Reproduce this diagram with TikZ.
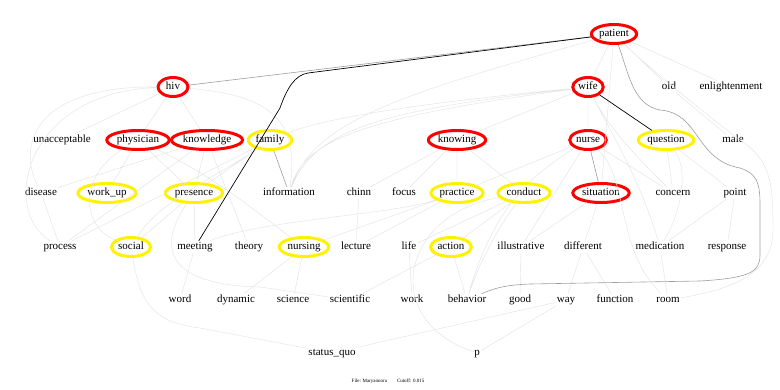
\documentclass[tikz,border=0pt]{standalone}
\usepackage{fontspec}
\setmainfont{Liberation Serif}
\usetikzlibrary{shapes,positioning}

\tikzset{
  term/.style={font=\fontsize{11}{12}\selectfont, inner sep=1pt, text height=7.5pt, text depth=2.5pt},
  redterm/.style={term, ellipse, draw=red, line width=3pt, inner xsep=1pt, minimum height=19pt, minimum width=30pt},
  yellowterm/.style={redterm, draw=yellow},
  faint/.style={draw=black!11, line width=0.45pt},
  grey/.style={draw=black!38, line width=0.6pt},
  strong/.style={draw=black, line width=0.7pt}
}

\begin{document}
\begin{tikzpicture}[x=1pt,y=-1pt]
	\useasboundingbox (0,0) rectangle (780,389);

	% rows of terms
	\node [redterm] (patient) at (614,34) {patient};

	\node [redterm] (hiv) at (173,87) {hiv};
	\node [redterm] (wife) at (588,87) {wife};
	\node [term] (old) at (669,87) {old};
	\node [term] (enlightenment) at (731,87) {enlightenment};

	\node [term] (unacceptable) at (62,140) {unacceptable};
	\node [redterm] (physician) at (138,140) {physician};
	\node [redterm] (knowledge) at (207,140) {knowledge};
	\node [yellowterm] (family) at (270,140) {family};
	\node [redterm] (knowing) at (457,140) {knowing};
	\node [redterm] (nurse) at (588,140) {nurse};
	\node [yellowterm] (question) at (666,140) {question};
	\node [term] (male) at (733,140) {male};

	\node [term] (disease) at (41,193) {disease};
	\node [yellowterm] (workup) at (107,193) {work\_up};
	\node [yellowterm] (presence) at (194,193) {presence};
	\node [term] (information) at (289,193) {information};
	\node [term] (chinn) at (359,193) {chinn};
	\node [term] (focus) at (404,193) {focus};
	\node [yellowterm] (practice) at (457,193) {practice};
	\node [yellowterm] (conduct) at (524,193) {conduct};
	\node [redterm] (situation) at (601,193) {situation};
	\node [term] (concern) at (673,193) {concern};
	\node [term] (point) at (735,193) {point};

	\node [term] (process) at (60,247) {process};
	\node [yellowterm] (social) at (131,247) {social};
	\node [term] (meeting) at (195,247) {meeting};
	\node [term] (theory) at (249,247) {theory};
	\node [yellowterm] (nursing) at (304,247) {nursing};
	\node [term] (lecture) at (356,247) {lecture};
	\node [term] (life) at (409,247) {life};
	\node [yellowterm] (action) at (451,247) {action};
	\node [term] (illustrative) at (521,247) {illustrative};
	\node [term] (different) at (583,247) {different};
	\node [term] (medication) at (660,247) {medication};
	\node [term] (response) at (727,247) {response};

	\node [term] (word) at (180,300) {word};
	\node [term] (dynamic) at (236,300) {dynamic};
	\node [term] (science) at (293,300) {science};
	\node [term] (scientific) at (350,300) {scientific};
	\node [term] (work) at (412,300) {work};
	\node [term] (behavior) at (467,300) {behavior};
	\node [term] (good) at (520,300) {good};
	\node [term] (way) at (566,300) {way};
	\node [term] (function) at (615,300) {function};
	\node [term] (room) at (668,300) {room};

	\node [term] (statusquo) at (332,353) {status\_quo};
	\node [term] (p) at (477,353) {p};

	\node [font=\fontsize{5}{6}\selectfont] (footer) at (388,381) {File: Maryannora\quad\quad Cutoff: 0.015};

	\draw[faint]
	(patient) -- (wife)
	(patient) -- (situation)
	(patient) -- (old)
	(patient) -- (enlightenment)
	(patient) .. controls (400,95) and (315,120) .. (information)
	(patient) .. controls (640,60) and (700,110) .. (740,140) .. controls (770,160) and (773,180) .. (773,230) .. controls (773,270) and (740,288) .. (room)
	(old) -- (male)
	(hiv) -- (unacceptable)
	(hiv) -- (physician)
	(hiv) -- (knowledge)
	(hiv) .. controls (40,86) and (15,140) .. (disease)
	(hiv) .. controls (25,92) and (0,210) .. (process)
	(hiv) .. controls (270,95) and (300,120) .. (information)
	(wife) .. controls (400,105) and (320,120) .. (family)
	(wife) .. controls (380,110) and (315,130) .. (information)
	(wife) .. controls (360,118) and (305,140) .. (information)
	(wife) -- (knowing)
	(wife) -- (nurse)
	(wife) .. controls (610,130) and (640,160) .. (concern)
	(wife) .. controls (615,140) and (640,180) .. (medication)
	(knowledge) -- (disease)
	(knowledge) -- (process)
	(knowledge) -- (presence)
	(knowledge) -- (theory)
	(physician) -- (workup)
	(physician) -- (presence)
	(physician) .. controls (80,175) and (80,225) .. (social)
	(physician) .. controls (220,180) and (260,215) .. (nursing)
	(family) -- (presence)
	(family) -- (process)
	(family) .. controls (220,175) and (160,200) .. (social)
	(disease) -- (process)
	(presence) -- (meeting)
	(presence) -- (social)
	(presence) .. controls (155,250) and (170,285) .. (260,287) -- (scientific)
	(meeting) -- (word)
	(knowing) -- (focus)
	(knowing) -- (practice)
	(knowing) -- (conduct)
	(knowing) -- (chinn)
	(chinn) -- (lecture)
	(practice) -- (lecture)
	(practice) -- (nursing)
	(practice) .. controls (390,215) and (260,220) .. (meeting)
	(conduct) -- (life)
	(conduct) -- (action)
	(conduct) .. controls (500,225) and (480,260) .. (behavior)
	(conduct) .. controls (400,215) and (380,320) .. (p)
	(nursing) -- (dynamic)
	(nursing) -- (science)
	(life) -- (work)
	(action) -- (behavior)
	(action) -- (scientific)
	(nurse) -- (practice)
	(nurse) .. controls (540,170) and (495,200) .. (behavior)
	(nurse) -- (illustrative)
	(nurse) -- (concern)
	(nurse) .. controls (630,180) and (615,250) .. (room)
	(situation) -- (different)
	(situation) -- (illustrative)
	(illustrative) -- (good)
	(different) -- (way)
	(different) -- (function)
	(question) -- (concern)
	(question) -- (point)
	(question) .. controls (690,170) and (680,215) .. (medication)
	(point) -- (medication)
	(point) -- (response)
	(medication) -- (room)
	(social) .. controls (140,300) and (150,322) .. (200,328) -- (statusquo)
	(way) -- (statusquo)
	(way) -- (p)
	;

	\draw[grey]
	(patient) -- (hiv)
	(family) -- (information)
	(nurse) -- (situation)
	(patient) .. controls (628,70) and (632,105) .. (660,110) .. controls (700,113) and (695,160) .. (740,168) .. controls (762,175) and (760,190) .. (760,220) -- (760,255) .. controls (760,272) and (750,278) .. (700,281) -- (530,284) .. controls (505,285) and (495,288) .. (behavior)
	;

	\draw[strong]
	(patient) -- (308,73) .. controls (295,75) and (287,88) .. (280,108) -- (meeting)
	(wife) -- (question)
	;
\end{tikzpicture}
\end{document}
